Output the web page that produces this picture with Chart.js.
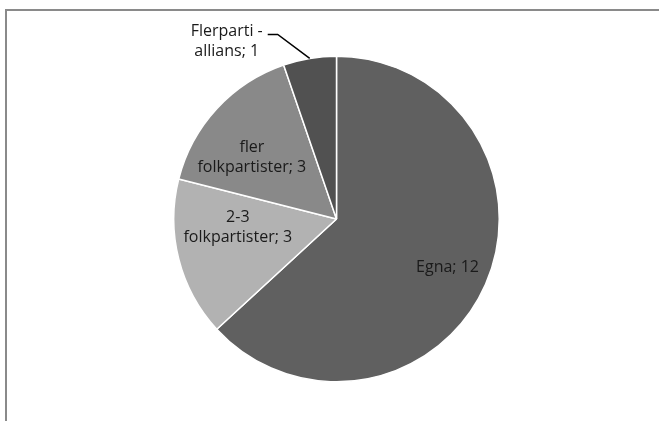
<!DOCTYPE html>
<html>
<head>
<meta charset="utf-8">
<script src="https://cdn.jsdelivr.net/npm/chart.js@4/dist/chart.umd.min.js"></script>
<style>
  html, body { margin: 0; padding: 0; background: #fff; overflow: hidden; }
  #wrap { position: relative; width: 659px; height: 421px; }
  #frame { position: absolute; left: 5px; top: 9px; width: 700px; height: 460px; border: 2px solid #8a8a8a; box-sizing: border-box; }
  #chart { position: absolute; left: 0; top: 0; }
</style>
</head>
<body>
<div id="wrap">
  <div id="frame"></div>
  <canvas id="chart" width="659" height="421"></canvas>
</div>
<script>
var categories = ['Egna', '2-3 folkpartister', 'fler folkpartister', 'Flerparti - allians'];
var values = [12, 3, 3, 1];
var labelLines = [['Egna; 12'], ['2-3', 'folkpartister; 3'], ['fler', 'folkpartister; 3'], ['Flerparti -', 'allians; 1']];
var sliceColors = ['#606060', '#b2b2b2', '#898989', '#515151'];

// where each label sits: fraction of radius along the slice middle, plus a nudge
var labelPlace = [
    { frac: 0.745, dx: 0, dy: 0 },
    { frac: 0.6, dx: -4, dy: -16 },
    { frac: 0.64, dx: -8, dy: 9 },
    { frac: 1.0, outside: true }
];

var pieLabels = {
    id: 'pieLabels',
    afterDatasetsDraw: function(chart) {
        var ctx = chart.ctx;
        var meta = chart.getDatasetMeta(0);
        ctx.save();
        ctx.font = '16px "Open Sans"';
        ctx.fillStyle = '#1a1a1a';
        ctx.textAlign = 'center';
        ctx.textBaseline = 'middle';
        var lh = 20;
        meta.data.forEach(function(arc, i) {
            var p = arc.getProps(['x', 'y', 'startAngle', 'endAngle', 'outerRadius'], true);
            var mid = (p.startAngle + p.endAngle) / 2;
            var pl = labelPlace[i];
            var ax = p.x + Math.cos(mid) * pl.frac * p.outerRadius;
            var ay = p.y + Math.sin(mid) * pl.frac * p.outerRadius;
            var lines = labelLines[i];
            var cx, cy;
            if (pl.outside) {
                var ex = ax - 32, ey = ay - 24;
                ctx.strokeStyle = '#000';
                ctx.lineWidth = 1.5;
                ctx.beginPath();
                ctx.moveTo(ax, ay);
                ctx.lineTo(ex, ey);
                ctx.lineTo(ex - 10, ey);
                ctx.stroke();
                cx = ex - 51;
                cy = ey + 6.5;
            } else {
                cx = ax + pl.dx;
                cy = ay + pl.dy;
            }
            var y0 = cy - (lines.length - 1) * lh / 2;
            lines.forEach(function(t, k) {
                ctx.fillText(t, cx, y0 + k * lh);
            });
        });
        ctx.restore();
    }
};

var ctx = document.getElementById('chart').getContext('2d');
new Chart(ctx, {
    type: 'pie',
    data: {
        labels: categories,
        datasets: [{
            data: values,
            backgroundColor: sliceColors,
            borderColor: '#ffffff',
            borderWidth: 1.5
        }]
    },
    options: {
        responsive: false,
        animation: false,
        layout: {
            padding: { left: 173, right: 159, top: 55, bottom: 38 }
        },
        plugins: {
            legend: { display: false },
            tooltip: { enabled: false }
        }
    },
    plugins: [pieLabels]
});
</script>
</body>
</html>
